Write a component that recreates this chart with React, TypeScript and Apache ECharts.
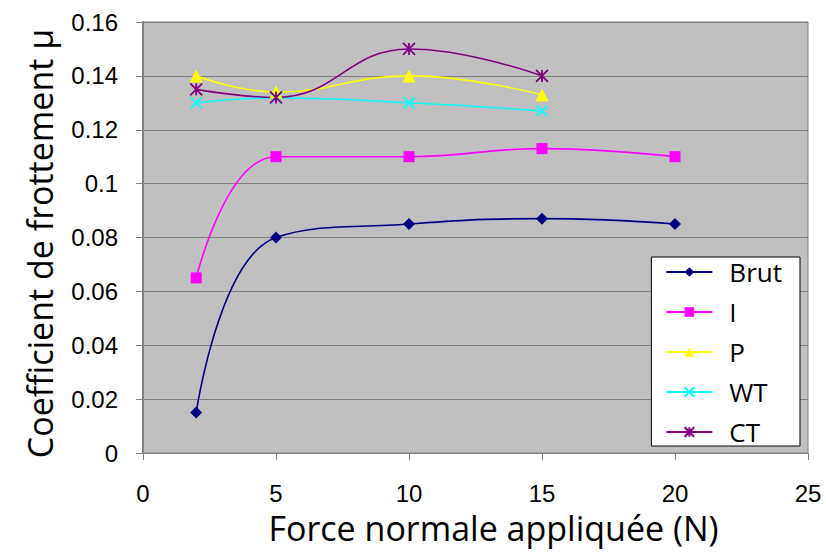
import React, { useEffect, useRef } from "react";
import * as echarts from "echarts";

const forces = [2, 5, 10, 15, 20];
const brut = [0.015, 0.08, 0.085, 0.087, 0.085];
const seriesI = [0.065, 0.11, 0.11, 0.113, 0.11];
const seriesP = [0.14, 0.134, 0.14, 0.133];
const seriesWT = [0.13, 0.1318, 0.13, 0.127];
const seriesCT = [0.135, 0.132, 0.15, 0.14];
const yTicks = { min: 0, max: 0.16, interval: 0.02 };
const xTicks = { min: 0, max: 25, interval: 5 };

const crossPath = "path://M0,0L10,10M10,0L0,10";
const starPath = "path://M0,0L10,10M10,0L0,10M5,0L5,10";

const pair = (vals: number[]) => vals.map((v, i) => [forces[i], v]);

export default function App() {
  const ref = useRef<HTMLDivElement>(null);
  useEffect(() => {
    document.body.style.margin = "0";
    const chart = echarts.init(ref.current!, undefined, { renderer: "svg" });
    const mk = (name: string, data: number[], color: string, symbol: string, size: number, stroke = false) => ({
      name,
      type: "line",
      data: pair(data),
      smooth: 0.45,
      symbol,
      symbolSize: size,
      lineStyle: { color, width: 1.6 },
      itemStyle: stroke
        ? { color: "transparent", borderColor: color, borderWidth: 1.8 }
        : { color, borderWidth: 0 },
      emphasis: { disabled: true },
    });
    chart.setOption({
      animation: false,
      textStyle: { fontFamily: "Liberation Sans" },
      grid: {
        left: 143,
        right: 18,
        top: 22,
        bottom: 99,
        outerBoundsMode: "none",
        containLabel: false,
        show: true,
        backgroundColor: "#C0C0C0",
        borderColor: "#808080",
        borderWidth: 1,
      },
      xAxis: {
        type: "value",
        ...xTicks,
        name: "Force normale appliquée (N)",
        nameLocation: "middle",
        nameGap: 58,
        nameTextStyle: { fontFamily: "Open Sans", fontSize: 34, color: "#000", padding: [0, 0, 0, 36] },
        axisLine: { show: true, lineStyle: { color: "#808080", width: 1 } },
        axisTick: { show: true, length: 7, lineStyle: { color: "#808080" } },
        axisLabel: { fontSize: 24, color: "#000", margin: 28 },
        splitLine: { show: false },
      },
      yAxis: {
        type: "value",
        ...yTicks,
        name: "Coefficient de frottement µ",
        nameLocation: "middle",
        nameGap: 86,
        nameTextStyle: { fontFamily: "Open Sans", fontSize: 34, color: "#000", padding: [0, 12, 0, 0] },
        axisLine: { show: true, lineStyle: { color: "#808080", width: 2 } },
        axisTick: { show: true, length: 7, lineStyle: { color: "#808080" } },
        axisLabel: { fontSize: 24, color: "#000", margin: 25 },
        splitLine: { show: true, lineStyle: { color: "#808080", width: 1 } },
      },
      legend: {
        orient: "vertical",
        right: 26,
        top: 257,
        backgroundColor: "#fff",
        borderColor: "#000",
        borderWidth: 1,
        borderRadius: 0,
        padding: [1, 18, 0, 14],
        itemWidth: 46,
        itemHeight: 12,
        itemGap: 12,
        textStyle: { fontFamily: "Open Sans", fontSize: 26, lineHeight: 28, color: "#000", padding: [0, 0, 0, 12] },
        data: ["Brut", "I", "P", "WT", "CT"],
      },
      series: [
        mk("Brut", brut, "#000080", "diamond", 12),
        mk("I", seriesI, "#FF00FF", "rect", 11),
        mk("P", seriesP, "#FFFF00", "triangle", 13),
        mk("WT", seriesWT, "#00FFFF", crossPath, 11, true),
        mk("CT", seriesCT, "#800080", starPath, 12, true),
      ],
    });
    return () => chart.dispose();
  }, []);
  return <div ref={ref} style={{ width: 826, height: 552 }} />;
}
